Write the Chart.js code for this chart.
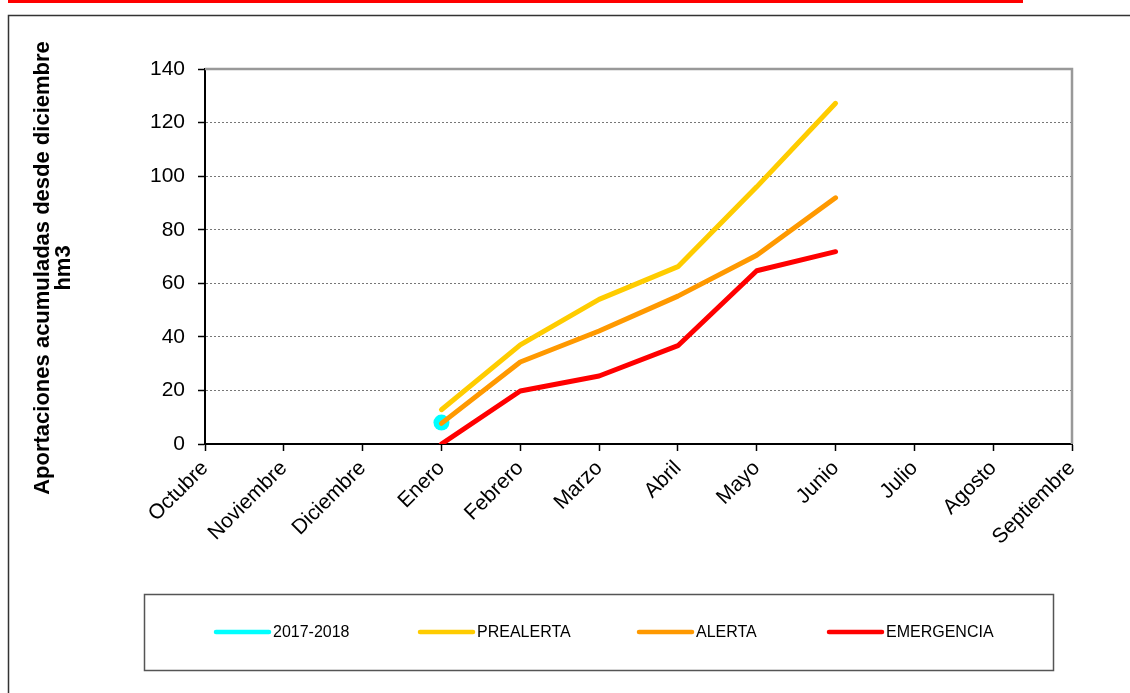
<!DOCTYPE html>
<html>
<head>
<meta charset="utf-8">
<script src="https://cdn.jsdelivr.net/npm/chart.js@4"></script>
<style>
  html, body { margin: 0; padding: 0; background: #fff; }
  canvas { display: block; }
</style>
</head>
<body>
<canvas id="chart" width="1130" height="693"></canvas>
<script>
// months of the hydrological year
const months = ['Octubre', 'Noviembre', 'Diciembre', 'Enero', 'Febrero', 'Marzo', 'Abril', 'Mayo', 'Junio', 'Julio', 'Agosto', 'Septiembre'];
const yTicks = [0, 20, 40, 60, 80, 100, 120, 140];

const actual2017 = [null, null, null, 8, null, null, null, null, null, null, null, null];
const prealerta  = [null, null, null, 12.8, 37, 54, 66.2, 96, 127.2, null, null, null];
const alerta     = [null, null, null, 7.7, 30.6, 42.2, 55.2, 70.5, 91.9, null, null, null];
const emergencia = [null, null, null, 0, 19.8, 25.4, 36.7, 64.7, 71.8, null, null, null];

const yTitle = ['Aportaciones acumuladas desde diciembre', 'hm3'];

const FONT = '"Liberation Sans", Arial, sans-serif';

const framePlugin = {
  id: 'frame',
  beforeDraw(chart) {
    const ctx = chart.ctx;
    ctx.save();
    ctx.fillStyle = '#fff';
    ctx.fillRect(0, 0, chart.width, chart.height);
    // red rule on top
    ctx.fillStyle = '#ff0000';
    ctx.fillRect(8, 0, 1015, 3);
    // outer frame
    ctx.strokeStyle = '#333';
    ctx.lineWidth = 1.5;
    ctx.beginPath();
    ctx.moveTo(8.5, chart.height);
    ctx.lineTo(8.5, 15.5);
    ctx.lineTo(chart.width, 15.5);
    ctx.stroke();
    ctx.restore();
  },
  beforeDatasetsDraw(chart) {
    const { ctx, chartArea: a } = chart;
    ctx.save();
    ctx.strokeStyle = '#999';
    ctx.lineWidth = 2.5;
    ctx.beginPath();
    ctx.moveTo(a.left, a.top);
    ctx.lineTo(a.right, a.top);
    ctx.lineTo(a.right, a.bottom);
    ctx.stroke();
    ctx.restore();
  },
  afterDraw(chart) {
    const ctx = chart.ctx;
    ctx.save();
    // y axis title, rotated
    ctx.translate(52, 268);
    ctx.rotate(-Math.PI / 2);
    ctx.fillStyle = '#000';
    ctx.font = 'bold 22px ' + FONT;
    ctx.textAlign = 'center';
    ctx.textBaseline = 'alphabetic';
    ctx.fillText(yTitle[0], 0, -3);
    ctx.fillText(yTitle[1], 0, 18);
    ctx.restore();

    // legend box
    ctx.save();
    ctx.strokeStyle = '#555';
    ctx.lineWidth = 1.5;
    ctx.strokeRect(144.5, 594.5, 909, 76);
    const starts = [216, 420, 639, 829];
    const y = 632;
    ctx.font = '16px ' + FONT;
    ctx.textBaseline = 'middle';
    ctx.textAlign = 'left';
    chart.data.datasets.forEach((ds, i) => {
      const x = starts[i];
      ctx.strokeStyle = ds.borderColor;
      ctx.lineWidth = 4.5;
      ctx.lineCap = 'round';
      ctx.beginPath();
      ctx.moveTo(x, y);
      ctx.lineTo(x + 53, y);
      ctx.stroke();
      ctx.fillStyle = '#000';
      ctx.fillText(ds.label, x + 57, y + 1);
    });
    ctx.restore();
  }
};

const lineDs = (label, data, color, order) => ({
  label, data,
  borderColor: color,
  backgroundColor: color,
  borderWidth: 5,
  borderCapStyle: 'round',
  borderJoinStyle: 'round',
  pointRadius: 0,
  pointHoverRadius: 0,
  spanGaps: false,
  order
});

new Chart(document.getElementById('chart'), {
  type: 'line',
  data: {
    labels: months,
    datasets: [
      Object.assign(lineDs('2017-2018', actual2017, '#00ffff', 10), { pointRadius: 8, pointBackgroundColor: '#00ffff', pointBorderWidth: 0 }),
      lineDs('PREALERTA', prealerta, '#ffcc00', 3),
      lineDs('ALERTA', alerta, '#ff9900', 2),
      lineDs('EMERGENCIA', emergencia, '#ff0000', 1)
    ]
  },
  options: {
    responsive: false,
    animation: false,
    devicePixelRatio: 1,
    layout: { padding: { left: 0, top: 69, right: 58, bottom: 0 } },
    plugins: { legend: { display: false }, tooltip: { enabled: false } },
    scales: {
      x: {
        offset: false,
        grid: { drawOnChartArea: false, drawTicks: true, tickLength: 7, tickColor: '#000', tickWidth: 1.5 },
        border: { color: '#000', width: 2 },
        ticks: {
          autoSkip: false, maxRotation: 45, minRotation: 45, padding: 5,
          color: '#000', font: { family: FONT, size: 21 }
        },
        afterFit(scale) { scale.height = 693 - 444; }
      },
      y: {
        min: 0, max: 140,
        afterBuildTicks(scale) { scale.ticks = yTicks.map(v => ({ value: v })); },
        grid: { color: '#777', lineWidth: 1, tickLength: 7, tickColor: '#000', tickWidth: 1.5 },
        border: { color: '#000', width: 2, dash: [2, 2] },
        ticks: { padding: 13, color: '#000', font: { family: FONT, size: 21 } },
        afterFit(scale) { scale.width = 205; }
      }
    }
  },
  plugins: [framePlugin]
});
</script>
</body>
</html>
